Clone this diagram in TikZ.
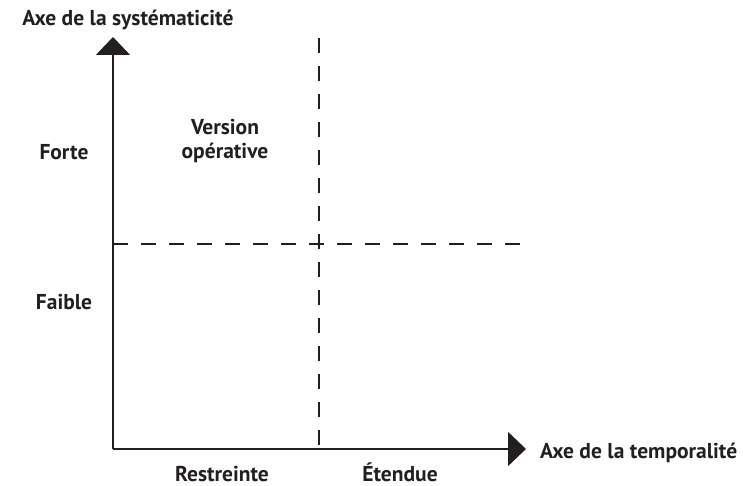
\documentclass[tikz,border=0pt]{standalone}
\usepackage{fontspec}
\setsansfont{PT Sans}
\usepackage{tikz}
\usetikzlibrary{positioning, arrows.meta}
\definecolor{axInk}{RGB}{35, 31, 32}
\tikzset{
    base/.style={
        font=\sffamily\bfseries\fontsize{21.5}{24}\selectfont,
        text=axInk,
        align=center,
        inner sep=0pt
    },
    axis/.style={
        -{Triangle[length=18pt, width=34pt]},
        line width=1.5pt,
        color=axInk
    },
    divider/.style={
        line width=1.3pt,
        color=axInk,
        dash pattern=on 15pt off 13pt
    },
    tag/.style={
        base,
        anchor=base
    }
}
\begin{document}
\begin{tikzpicture}[x=1pt, y=-1pt]
  \useasboundingbox (0,0) rectangle (743,486);

  % Axes
  \coordinate (o) at (113,449);
  \coordinate (ytip) at (113,37);
  \coordinate (xtip) at (526,449);
  \draw[axis] (o) -- (ytip);
  \draw[axis] (o) -- (xtip);

  % Quadrant lines
  \coordinate (vtop) at (319,38);
  \coordinate (vbot) at (319,449);
  \coordinate (hleft) at (113,244);
  \coordinate (hright) at (525,244);
  \draw[divider] (vtop) -- (vbot);
  \draw[divider] (hleft) -- (hright);

  % Axis titles
  \node[tag] (ytitle) at (128,26) {Axe de la systématicité};
  \node[tag, anchor=base west] (xtitle) at (540,458) {Axe de la temporalité};

  % Levels
  \node[tag] (forte) at (64,160) {Forte};
  \node[tag] (faible) at (64,309) {Faible};
  \node[tag] (restr) at (222,481) {Restreinte};
  \node[tag] (etend) at (400,481) {Étendue};

  % Quadrant
  \node[base] (oper) at (225,141) {Version\\opérative};
\end{tikzpicture}
\end{document}
